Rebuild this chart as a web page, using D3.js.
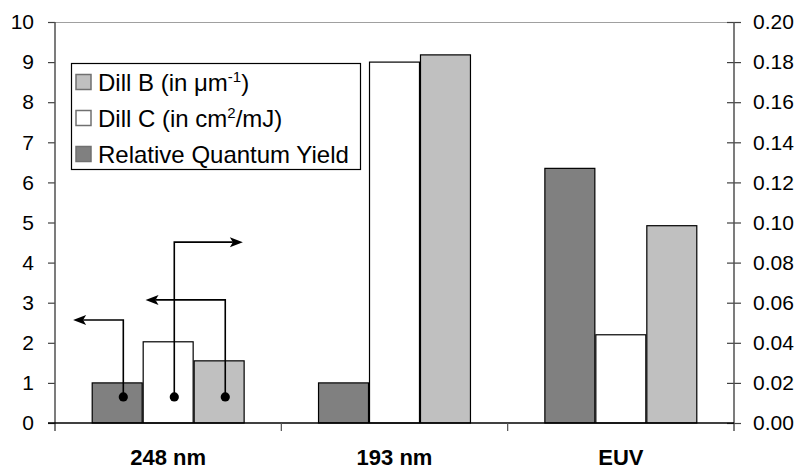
<!DOCTYPE html>
<html>
<head>
<meta charset="utf-8">
<script src="https://cdn.jsdelivr.net/npm/d3@7"></script>
<style>
  html, body { margin: 0; padding: 0; background: #fff; }
  svg { display: block; font-family: Arial, "Liberation Sans", sans-serif; }
</style>
</head>
<body>
<svg id="chart" width="804" height="469"></svg>
<script>
// ---- data ----
const categories = ["248 nm", "193 nm", "EUV"];
const seriesKeys = ["quantumYield", "dillC", "dillB"];
const seriesNames = {
  dillB: ["Dill B (in ", "\u03bc", "m", "-1", ")"],
  dillC: ["Dill C (in cm", "2", "/mJ)"],
  quantumYield: ["Relative Quantum Yield"]
};
const quantumYield = [1.0, 1.0, 6.35];   // left axis
const dillC = [0.0405, 0.18, 0.044];     // right axis
const dillB = [1.55, 9.18, 4.92];        // left axis
const leftTicks = [0,1,2,3,4,5,6,7,8,9,10];
const rightTicks = [0,0.02,0.04,0.06,0.08,0.10,0.12,0.14,0.16,0.18,0.20];
// annotation arrows: dot level (left-axis units), bend level, tip position (category index units)
const arrows = [
  { series: "quantumYield", cat: "248 nm", dot: 0.65, level: 2.57, tip: -0.42 },
  { series: "dillB",        cat: "248 nm", dot: 0.65, level: 3.07, tip: -0.10 },
  { series: "dillC",        cat: "248 nm", dot: 0.65, level: 4.51, tip: 0.33 }
];

const values = { quantumYield, dillC, dillB };
const axisOf = { quantumYield: "left", dillC: "right", dillB: "left" };
const colors = { quantumYield: "#808080", dillC: "#ffffff", dillB: "#c0c0c0" };

// ---- layout ----
const svg = d3.select("#chart");
const L = 55, R = 734, T = 22, B = 423;

const y = d3.scaleLinear().domain([0, 10]).range([B, T]);
const y2 = d3.scaleLinear().domain([0, 0.2]).range([B, T]);
const x0 = d3.scaleBand().domain(categories).range([L, R]).padding(0);
const x1 = d3.scaleBand().domain(seriesKeys).range([0, x0.bandwidth()]).paddingInner(0).paddingOuter(0.72);
const xc = d3.scaleLinear().domain([-0.5, categories.length - 0.5]).range([L, R]);

// top border of plot
svg.append("line").attr("x1", L).attr("x2", R).attr("y1", T + 0.5).attr("y2", T + 0.5)
  .attr("stroke", "#a0a0a0").attr("stroke-width", 1);

// bars
const g = svg.append("g");
categories.forEach((c, i) => {
  seriesKeys.forEach(k => {
    const v = values[k][i];
    const sc = axisOf[k] === "left" ? y : y2;
    g.append("rect")
      .attr("x", x0(c) + x1(k) + 0.5)
      .attr("y", sc(v))
      .attr("width", x1.bandwidth() - 1)
      .attr("height", B - sc(v))
      .attr("fill", colors[k])
      .attr("stroke", "#000")
      .attr("stroke-width", 1.2);
  });
});

// left axis
const la = svg.append("g").attr("transform", `translate(${L},0)`)
  .call(d3.axisLeft(y).tickValues(leftTicks).tickSize(7).tickPadding(14).tickFormat(d3.format("d")));
la.select(".domain").remove();
la.selectAll("line").attr("stroke", "#404040").attr("stroke-width", 1.2);
la.selectAll("text").attr("font-size", 21).attr("fill", "#000")
  .attr("font-family", "Arial, 'Liberation Sans', sans-serif");
svg.append("line").attr("x1", L).attr("x2", L).attr("y1", T).attr("y2", B + 8)
  .attr("stroke", "#505050").attr("stroke-width", 1.5);

// right axis (ticks cross)
const ra = svg.append("g").attr("transform", `translate(${R},0)`)
  .call(d3.axisRight(y2).tickValues(rightTicks).tickSize(7).tickPadding(12).tickFormat(d3.format(".2f")));
ra.select(".domain").remove();
ra.selectAll("line").attr("x1", -7).attr("x2", 7).attr("stroke", "#404040").attr("stroke-width", 1.2);
ra.selectAll("text").attr("font-size", 21).attr("fill", "#000")
  .attr("font-family", "Arial, 'Liberation Sans', sans-serif");
svg.append("line").attr("x1", R).attr("x2", R).attr("y1", T).attr("y2", B + 8)
  .attr("stroke", "#505050").attr("stroke-width", 1.5);

// x baseline + category separators
svg.append("line").attr("x1", L - 7).attr("x2", R).attr("y1", B).attr("y2", B)
  .attr("stroke", "#000").attr("stroke-width", 1.5);
categories.slice(1).forEach(c => {
  svg.append("line").attr("x1", x0(c)).attr("x2", x0(c)).attr("y1", B).attr("y2", B + 8)
    .attr("stroke", "#505050").attr("stroke-width", 1.2);
});
categories.forEach(c => {
  svg.append("text").attr("x", x0(c) + x0.bandwidth() / 2).attr("y", 465)
    .attr("text-anchor", "middle").attr("font-size", 22).attr("font-weight", "bold")
    .text(c);
});

// arrows
const ag = svg.append("g");
arrows.forEach(a => {
  const xv = x0(a.cat) + x1(a.series) + x1.bandwidth() * 0.62;
  const yd = y(a.dot), yl = y(a.level), xt = xc(a.tip);
  const dir = xt < xv ? -1 : 1;
  const head = 10;
  ag.append("path")
    .attr("d", `M${xv},${yd} V${yl} H${xt - dir * head}`)
    .attr("fill", "none").attr("stroke", "#000").attr("stroke-width", 1.6);
  ag.append("path")
    .attr("d", `M${xt},${yl} L${xt - dir * head * 1.3},${yl - 5} L${xt - dir * head},${yl} L${xt - dir * head * 1.3},${yl + 5} Z`)
    .attr("fill", "#000");
  ag.append("circle").attr("cx", xv).attr("cy", yd).attr("r", 4.6).attr("fill", "#000");
});

// legend
const legendOrder = ["dillB", "dillC", "quantumYield"];
const lg = svg.append("g");
lg.append("rect").attr("x", 71.5).attr("y", 63.5).attr("width", 289).attr("height", 106)
  .attr("fill", "#fff").attr("stroke", "#000").attr("stroke-width", 1.2);
legendOrder.forEach((k, i) => {
  const cy = 82 + i * 36;
  lg.append("rect").attr("x", 76).attr("y", cy - 7.5).attr("width", 15).attr("height", 15)
    .attr("fill", colors[k]).attr("stroke", "#707070").attr("stroke-width", 1.5);
  const t = lg.append("text").attr("x", 98).attr("y", cy + 8.5).attr("font-size", 24).attr("fill", "#000");
  const parts = seriesNames[k];
  if (k === "dillB") {
    t.append("tspan").text(parts[0]);
    t.append("tspan").text(parts[1] + parts[2]);
    t.append("tspan").attr("font-size", 15).attr("dy", -9).text(parts[3]);
    t.append("tspan").attr("dy", 9).text(parts[4]);
  } else if (k === "dillC") {
    t.append("tspan").text(parts[0]);
    t.append("tspan").attr("font-size", 15).attr("dy", -9).text(parts[1]);
    t.append("tspan").attr("dy", 9).text(parts[2]);
  } else {
    t.text(parts[0]);
  }
});
</script>
</body>
</html>
